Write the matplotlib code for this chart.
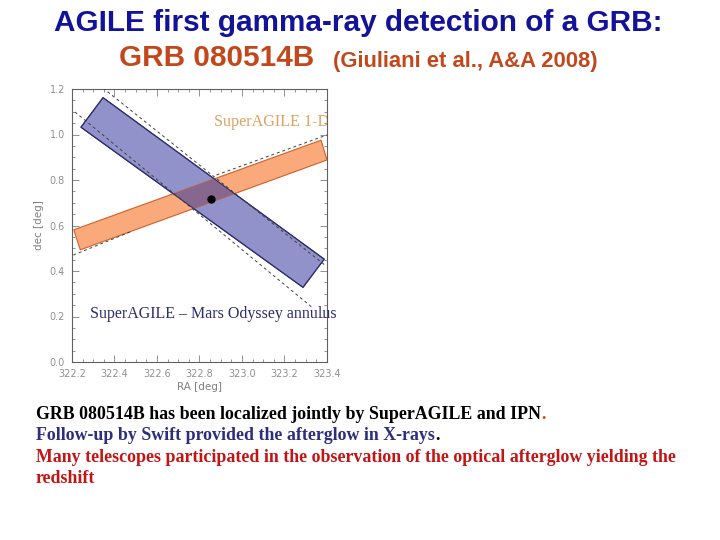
import matplotlib
matplotlib.use('Agg')
import numpy as np
from matplotlib import pyplot as plt
from matplotlib.patches import Polygon

# --- data ---
# corners of the SuperAGILE-Mars Odyssey annulus segment (RA, dec)
blue_band_ra = [322.346, 323.387, 323.287, 322.242]
blue_band_dec = [1.162, 0.452, 0.328, 1.032]
# corners of the SuperAGILE 1-D strip
orange_band_ra = [322.208, 323.372, 323.400, 322.239]
orange_band_dec = [0.581, 0.975, 0.888, 0.493]
# dashed boundary lines
blue_dash_upper_ra = [322.346, 323.390]
blue_dash_upper_dec = [1.204, 0.426]
blue_dash_lower_ra = [322.214, 323.334]
blue_dash_lower_dec = [1.099, 0.237]
orange_dash_upper_ra = [322.880, 323.400]
orange_dash_upper_dec = [0.822, 0.998]
orange_dash_lower_ra = [322.206, 322.480]
orange_dash_lower_dec = [0.470, 0.574]
# GRB position
grb_ra = [322.853]
grb_dec = [0.717]

x_ticks = [322.2, 322.4, 322.6, 322.8, 323.0, 323.2, 323.4]
y_ticks = [0.0, 0.2, 0.4, 0.6, 0.8, 1.0, 1.2]

fig = plt.figure(figsize=(7.2, 5.4), dpi=100)
ax = fig.add_axes([72/720, 1-362/540, 255/720, 273/540])

blue = Polygon(list(zip(blue_band_ra, blue_band_dec)), closed=True,
               facecolor='#9292cb', edgecolor='#2e2e6e', linewidth=0.8, zorder=2)
ax.add_patch(blue)
orange = Polygon(list(zip(orange_band_ra, orange_band_dec)), closed=True,
                 facecolor='#f9a97a', edgecolor='#d0602a', linewidth=0.8, zorder=3)
ax.add_patch(orange)
# overlap region: orange strip clipped by the blue band
overlap = Polygon(list(zip(orange_band_ra, orange_band_dec)), closed=True,
                  facecolor='#86688f', edgecolor='none', zorder=4)
ax.add_patch(overlap)
overlap.set_clip_path(blue)
blue_edge = Polygon(list(zip(blue_band_ra, blue_band_dec)), closed=True,
                    facecolor='none', edgecolor='#2e2e6e', linewidth=0.8, zorder=5)
ax.add_patch(blue_edge)

dash_kw = dict(color='#404040', linestyle=(0, (3, 3)), linewidth=0.7, zorder=6)
ax.plot(blue_dash_upper_ra, blue_dash_upper_dec, **dash_kw)
ax.plot(blue_dash_lower_ra, blue_dash_lower_dec, **dash_kw)
ax.plot(orange_dash_upper_ra, orange_dash_upper_dec, **dash_kw)
ax.plot(orange_dash_lower_ra, orange_dash_lower_dec, **dash_kw)

ax.plot(grb_ra, grb_dec, 'o', color='black', markersize=5, zorder=7)

ax.set_xlim(322.2, 323.4)
ax.set_ylim(0.0, 1.2)
ax.set_xticks(x_ticks)
ax.set_xticklabels([f'{v:.1f}' for v in x_ticks])
ax.set_yticks(y_ticks)
ax.set_yticklabels([f'{v:.1f}' for v in y_ticks])
ax.set_xticks(np.arange(322.2, 323.41, 0.05), minor=True)
ax.set_yticks(np.arange(0.0, 1.21, 0.05), minor=True)
ax.tick_params(which='both', direction='in', top=True, right=True,
               colors='#808080', labelcolor='#909090', labelsize=7, width=0.6)
ax.tick_params(which='major', length=5, pad=5)
ax.tick_params(which='minor', length=2.5)
for s in ax.spines.values():
    s.set_color('#606060')
    s.set_linewidth(0.8)
ax.set_xlabel('RA [deg]', color='#808080', fontsize=7.5, labelpad=2)
ax.set_ylabel('dec [deg]', color='#808080', fontsize=7.5, labelpad=4)

ax.text(322.87, 1.055, 'SuperAGILE 1-D', color='#e0a060', fontsize=11.6,
        family='Liberation Serif', va='center', ha='left', clip_on=True, zorder=8)
ax.text(322.285, 0.21, 'SuperAGILE \u2013 Mars Odyssey annulus', color='#2e2e6e',
        fontsize=11.5, family='Liberation Serif', va='center', ha='left',
        clip_on=False, zorder=8)

# --- title ---
fig.text(358/720, 1-23/540, 'AGILE first gamma-ray detection of a GRB:',
         color='#12129a', fontsize=21.4, family='Liberation Sans',
         weight='bold', ha='center', va='center')
fig.text(119/720, 1-58/540, 'GRB 080514B', color='#c2481c', fontsize=21.4,
         family='Liberation Sans', weight='bold', ha='left', va='center')
fig.text(333/720, 1-62/540, '(Giuliani et al., A&A 2008)', color='#c2481c',
         fontsize=15.8, family='Liberation Sans', weight='bold', ha='left', va='center')

# --- bottom text, drawn piece by piece so the colours can change mid-line ---
renderer = fig.canvas.get_renderer()


def colored_line(x, y, pieces):
    for txt, col in pieces:
        t = fig.text(x, y, txt, color=col, fontsize=12.9, family='Liberation Serif',
                     weight='bold', ha='left', va='baseline')
        bb = t.get_window_extent(renderer=renderer)
        x += bb.width / (fig.dpi * fig.get_figwidth())


colored_line(36/720, 1-419/540,
             [('GRB 080514B has been localized jointly by SuperAGILE and IPN', 'black'),
              ('.', '#c2481c')])
colored_line(36/720, 1-440/540,
             [('Follow-up by Swift provided the afterglow in X-rays', '#2e2e7e'),
              ('.', 'black')])
colored_line(36/720, 1-462/540,
             [('Many telescopes participated in the observation of the optical afterglow yielding the', '#c41414')])
colored_line(36/720, 1-483/540, [('redshift', '#c41414')])

fig.savefig('out.png', dpi=100)
